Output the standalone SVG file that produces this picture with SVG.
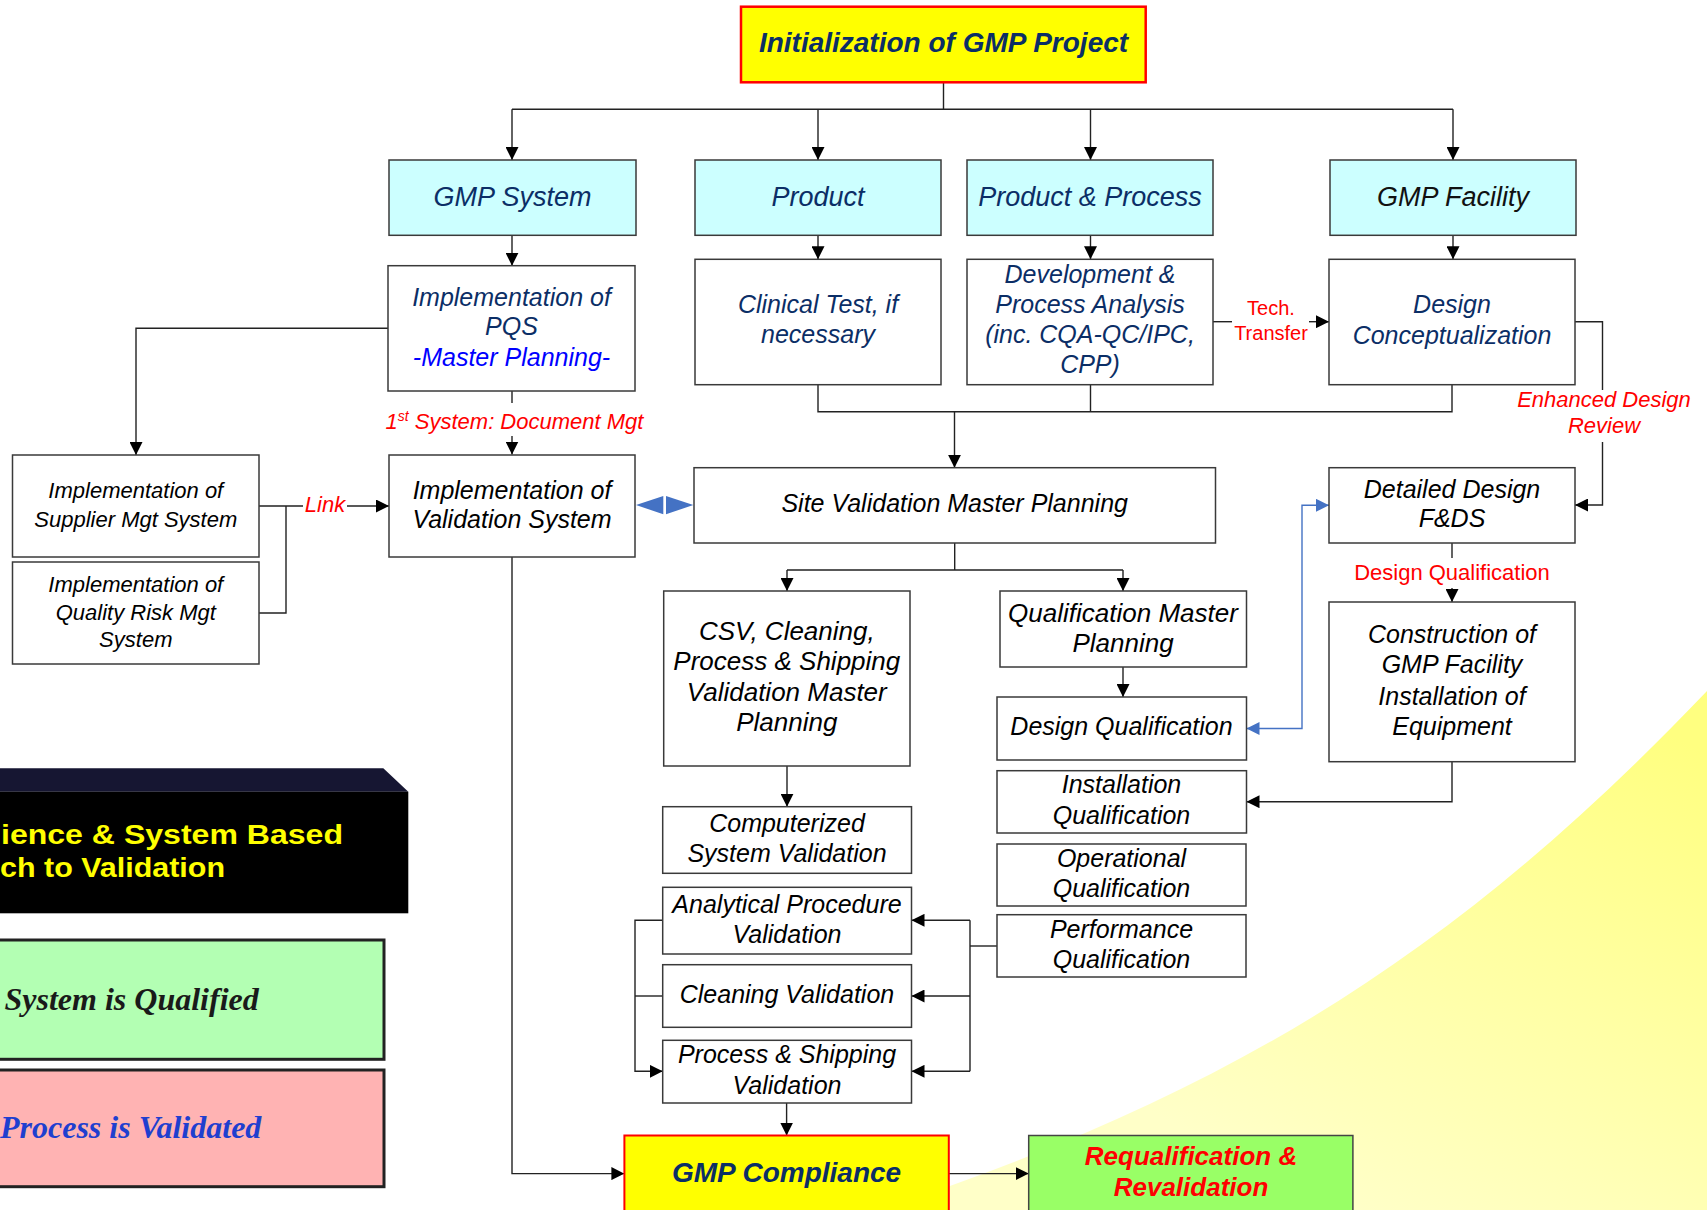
<svg xmlns="http://www.w3.org/2000/svg" width="1707" height="1210" viewBox="0 0 1707 1210">
<defs>
<linearGradient id="sweep" x1="1600" y1="700" x2="1350" y2="1210" gradientUnits="userSpaceOnUse">
<stop offset="0" stop-color="#FFFF80"/>
<stop offset="1" stop-color="#FFFFC8"/>
</linearGradient>
<marker id="ah" markerUnits="userSpaceOnUse" markerWidth="13" markerHeight="13" refX="13" refY="6.5" orient="auto">
<path d="M0,0 L13,6.5 L0,13 Z" fill="#000"/>
</marker>
<marker id="ahb" markerUnits="userSpaceOnUse" markerWidth="13" markerHeight="13" refX="13" refY="6.5" orient="auto-start-reverse">
<path d="M0,0 L13,6.5 L0,13 Z" fill="#4472C4"/>
</marker>
<style>
.box{fill:#fff;stroke:#3a3a3a;stroke-width:1.5}
.cyan{fill:#CCFFFF;stroke:#3a3a3a;stroke-width:1.5}
.t{font-family:"Liberation Sans",Arial,sans-serif;font-style:italic;text-anchor:middle;fill:#000}
.t.navy{fill:#0B2E66}
.t.dark{fill:#111}
.t.bl{fill:#0000FF}
.t.red{fill:#FF0000}
.f27{font-size:27px}
.f25{font-size:25px}
.f26{font-size:26px}
.f22{font-size:22px}
.bold{font-weight:bold}
.up{font-family:"Liberation Sans",Arial,sans-serif;text-anchor:middle;fill:#FF0000}
.ln{fill:none;stroke:#222;stroke-width:1.4}
.arr{marker-end:url(#ah)}
.blue{fill:none;stroke:#4472C4;stroke-width:1.4;marker-start:url(#ahb);marker-end:url(#ahb)}
.leg{font-family:"Liberation Serif","Times New Roman",serif;font-style:italic;font-weight:bold;font-size:32px}
.ban{font-family:"Liberation Sans",Arial,sans-serif;font-weight:bold;font-size:28.5px;fill:#FFFF00}
</style>
</defs>
<rect x="0" y="0" width="1707" height="1210" fill="#fff"/>
<path d="M880,1210 C1230,1094.5 1457,953.5 1707,691 L1707,1210 Z" fill="url(#sweep)"/>

<g id="legend">
<polygon points="-5,768.3 383.3,768.3 408.3,791.7 -5,791.7" fill="#161632"/>
<rect x="-5" y="791.7" width="413.3" height="121.6" fill="#000"/>
<text class="ban" x="1" y="844" textLength="342" lengthAdjust="spacingAndGlyphs">ience &amp; System Based</text>
<text class="ban" x="0" y="876.5" textLength="225" lengthAdjust="spacingAndGlyphs">ch to Validation</text>
<rect x="-5" y="940" width="389" height="119.3" fill="#B3FFB3" stroke="#222" stroke-width="3"/>
<text class="leg" x="4.5" y="1010" fill="#1a1a1a">System is Qualified</text>
<rect x="-5" y="1070" width="389" height="116.7" fill="#FFB3B3" stroke="#222" stroke-width="3"/>
<text class="leg" x="0" y="1137.7" fill="#1F3FCF">Process is Validated</text>
</g>

<g id="connectors">
<path class="ln" d="M943.5,82 V109.3 M512,109.3 H1453"/>
<path class="ln arr" d="M512,109.3 V160"/>
<path class="ln arr" d="M818,109.3 V160"/>
<path class="ln arr" d="M1090.5,109.3 V160"/>
<path class="ln arr" d="M1453,109.3 V160"/>
<path class="ln arr" d="M512,235.5 V265.7"/>
<path class="ln arr" d="M818,235.5 V259.3"/>
<path class="ln arr" d="M1090.5,235.5 V259.3"/>
<path class="ln arr" d="M1453,235.5 V259.3"/>
<path class="ln" d="M818,385 V411.7 H1452 V385 M1090.5,385 V411.7"/>
<path class="ln arr" d="M954.5,411.7 V467.7"/>
<path class="ln arr" d="M388,328.3 H136 V455"/>
<path class="ln" d="M512,391 V403"/>
<path class="ln arr" d="M512,436 V454.5"/>
<path class="ln" d="M1213,321.7 H1232"/>
<path class="ln arr" d="M1309,321.7 H1329"/>
<path class="ln" d="M1575,321.7 H1602.5 V390"/>
<path class="ln arr" d="M1602.5,442 V505 H1575"/>
<path class="ln" d="M259,506 H303 M259,613 H286 V506"/>
<path class="ln arr" d="M347,506 H389"/>
<polygon points="636,505 663.3,496 663.3,514.3" fill="#4472C4"/>
<polygon points="693.3,505 666,496 666,514.3" fill="#4472C4"/>
<path class="ln arr" d="M512,557 V1173.6 H624.4"/>
<path class="ln" d="M954.7,543 V570 M787,570 H1123"/>
<path class="ln arr" d="M787,570 V591"/>
<path class="ln arr" d="M1123,570 V591"/>
<path class="ln arr" d="M787,766 V806.7"/>
<path class="ln arr" d="M1123,667 V697"/>
<path class="ln" d="M1452,543 V558"/>
<path class="ln arr" d="M1452,588 V602"/>
<path class="ln arr" d="M1452,761.7 V801.7 H1246.5"/>
<path class="blue" d="M1246.5,728.5 H1302 V505.3 H1329"/>
<path class="ln" d="M997,946 H970" stroke-width="2.5"/>
<path class="ln" d="M970,920.3 V1071.3"/>
<path class="ln arr" d="M970,920.3 H911.5"/>
<path class="ln arr" d="M970,996 H911.5"/>
<path class="ln arr" d="M970,1071.3 H911.5"/>
<path class="ln" d="M662.7,996 H635"/>
<path class="ln arr" d="M662.7,920.3 H635 V1071.3 H662.7"/>
<path class="ln arr" d="M786.6,1103 V1135.5"/>
<path class="ln arr" d="M948.8,1173.6 H1028.7"/>
</g>

<g id="n-init">
<rect x="741" y="6.7" width="404.7" height="75.6" fill="#FFFF00" stroke="#FF0000" stroke-width="2.5"/>
<text class="t navy bold" x="943.5" y="52" font-size="28">Initialization of GMP Project</text>
</g>
<g id="n-gmpsystem">
<rect class="cyan" x="389" y="160" width="247" height="75.3"/>
<text class="t navy f27" x="512.5" y="206">GMP System</text>
</g>
<g id="n-product">
<rect class="cyan" x="695" y="160" width="246" height="75.3"/>
<text class="t navy f27" x="818" y="206">Product</text>
</g>
<g id="n-prodproc">
<rect class="cyan" x="967" y="160" width="246" height="75.3"/>
<text class="t navy f27" x="1090" y="206">Product &amp; Process</text>
</g>
<g id="n-facility">
<rect class="cyan" x="1330" y="160" width="246" height="75.3"/>
<text class="t dark f27" x="1453" y="206">GMP Facility</text>
</g>
<g id="n-pqs">
<rect class="box" x="388" y="265.7" width="247" height="125.3"/>
<text class="t navy f25" x="511.5" y="306">Implementation of</text>
<text class="t navy f25" x="511.5" y="335">PQS</text>
<text class="t bl f25" x="511.5" y="366">-Master Planning-</text>
</g>
<g id="n-clinical">
<rect class="box" x="695" y="259.3" width="246" height="125.4"/>
<text class="t navy f25" x="818" y="313">Clinical Test, if</text>
<text class="t navy f25" x="818" y="343">necessary</text>
</g>
<g id="n-development">
<rect class="box" x="967" y="259.3" width="246" height="125.4"/>
<text class="t navy f25" x="1090" y="283">Development &amp;</text>
<text class="t navy f25" x="1090" y="313">Process Analysis</text>
<text class="t navy f25" x="1090" y="343">(inc. CQA-QC/IPC,</text>
<text class="t navy f25" x="1090" y="373">CPP)</text>
</g>
<g id="n-designconc">
<rect class="box" x="1329" y="259.3" width="246" height="125.4"/>
<text class="t navy f25" x="1452" y="313">Design</text>
<text class="t navy f25" x="1452" y="344">Conceptualization</text>
</g>
<g id="labels">
<text class="up" x="1271" y="315" font-size="20">Tech.</text>
<text class="up" x="1271" y="340" font-size="20">Transfer</text>
<text class="t red f22" x="1604" y="406.5">Enhanced Design</text>
<text class="t red f22" x="1604" y="433">Review</text>
<text class="t red f22" x="514.5" y="429">1<tspan font-size="14" baseline-shift="super">st</tspan> System: Document Mgt</text>
<text class="t red f22" x="325" y="511.5">Link</text>
<text class="up" x="1452" y="580" font-size="22">Design Qualification</text>
</g>
<g id="n-supplier">
<rect class="box" x="12.5" y="455" width="246.5" height="102"/>
<text class="t f22" x="135.8" y="498">Implementation of</text>
<text class="t f22" x="135.8" y="526.5">Supplier Mgt System</text>
</g>
<g id="n-qrm">
<rect class="box" x="12.5" y="562" width="246.5" height="102"/>
<text class="t f22" x="135.8" y="591.5">Implementation of</text>
<text class="t f22" x="135.8" y="619.5">Quality Risk Mgt</text>
<text class="t f22" x="135.8" y="646.5">System</text>
</g>
<g id="n-valsystem">
<rect class="box" x="389" y="455" width="246" height="102"/>
<text class="t f25" x="512" y="499">Implementation of</text>
<text class="t f25" x="512" y="527.5">Validation System</text>
</g>
<g id="n-sitevmp">
<rect class="box" x="694" y="467.7" width="521.5" height="75.3"/>
<text class="t f25" x="954.7" y="512">Site Validation Master Planning</text>
</g>
<g id="n-detailed">
<rect class="box" x="1329" y="467.7" width="246" height="75.3"/>
<text class="t f25" x="1452" y="498">Detailed Design</text>
<text class="t f25" x="1452" y="527">F&amp;DS</text>
</g>
<g id="n-csv">
<rect class="box" x="663.7" y="591" width="246.3" height="175"/>
<text class="t f26" x="786.8" y="640">CSV, Cleaning,</text>
<text class="t f26" x="786.8" y="670">Process &amp; Shipping</text>
<text class="t f26" x="786.8" y="700.5">Validation Master</text>
<text class="t f26" x="786.8" y="730.5">Planning</text>
</g>
<g id="n-qmp">
<rect class="box" x="1000" y="591" width="246.5" height="76"/>
<text class="t f26" x="1123" y="621.5">Qualification Master</text>
<text class="t f26" x="1123" y="651.5">Planning</text>
</g>
<g id="n-construction">
<rect class="box" x="1329" y="602" width="246" height="159.7"/>
<text class="t f25" x="1452" y="643">Construction of</text>
<text class="t f25" x="1452" y="673">GMP Facility</text>
<text class="t f25" x="1452" y="704.5">Installation of</text>
<text class="t f25" x="1452" y="734.5">Equipment</text>
</g>
<g id="n-dq">
<rect class="box" x="997" y="697" width="249.5" height="63"/>
<text class="t f25" x="1121.5" y="735">Design Qualification</text>
</g>
<g id="n-iq">
<rect class="box" x="997" y="770.7" width="249.5" height="62.3"/>
<text class="t f25" x="1121.5" y="793.3">Installation</text>
<text class="t f25" x="1121.5" y="824">Qualification</text>
</g>
<g id="n-oq">
<rect class="box" x="997" y="844" width="249" height="62"/>
<text class="t f25" x="1121.5" y="867.3">Operational</text>
<text class="t f25" x="1121.5" y="897.3">Qualification</text>
</g>
<g id="n-pq">
<rect class="box" x="997" y="914.7" width="249" height="62.3"/>
<text class="t f25" x="1121.5" y="937.7">Performance</text>
<text class="t f25" x="1121.5" y="967.7">Qualification</text>
</g>
<g id="n-csvval">
<rect class="box" x="662.7" y="806.7" width="248.8" height="66.6"/>
<text class="t f25" x="787" y="831.5">Computerized</text>
<text class="t f25" x="787" y="861.5">System Validation</text>
</g>
<g id="n-analytical">
<rect class="box" x="662.7" y="887.3" width="248.8" height="66.7"/>
<text class="t f25" x="787" y="912.5">Analytical Procedure</text>
<text class="t f25" x="787" y="942.5">Validation</text>
</g>
<g id="n-cleaning">
<rect class="box" x="662.7" y="964.7" width="248.8" height="62.6"/>
<text class="t f25" x="787" y="1003.3">Cleaning Validation</text>
</g>
<g id="n-process">
<rect class="box" x="662.7" y="1040.3" width="248.8" height="62.7"/>
<text class="t f25" x="787" y="1063.3">Process &amp; Shipping</text>
<text class="t f25" x="787" y="1094">Validation</text>
</g>
<g id="n-compliance">
<rect x="624.4" y="1135.5" width="324.4" height="80" fill="#FFFF00" stroke="#FF0000" stroke-width="2"/>
<text class="t navy bold" x="786.6" y="1182" font-size="28">GMP Compliance</text>
</g>
<g id="n-requal">
<rect x="1028.7" y="1135.5" width="324.2" height="80" fill="#99FF66" stroke="#444" stroke-width="1.5"/>
<text class="t red bold" x="1191" y="1165" font-size="26">Requalification &amp;</text>
<text class="t red bold" x="1191" y="1196" font-size="26">Revalidation</text>
</g>
</svg>
